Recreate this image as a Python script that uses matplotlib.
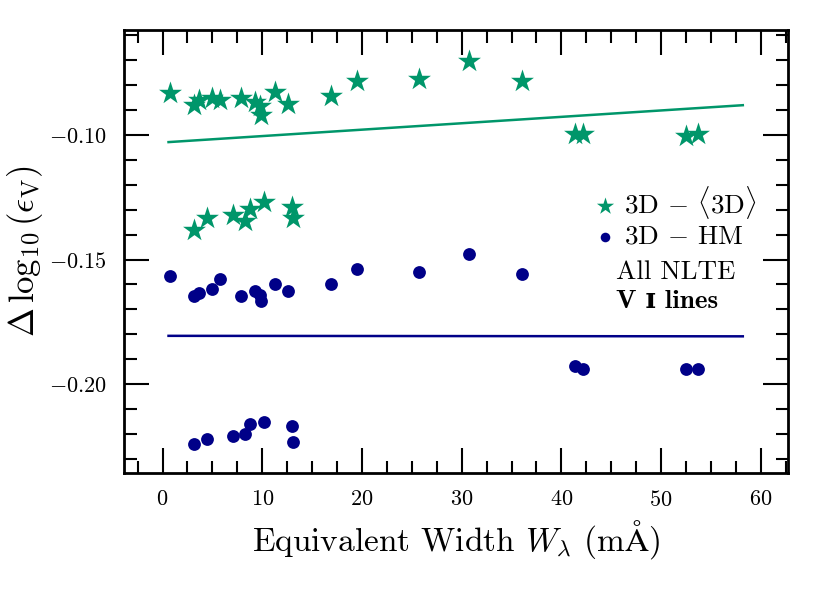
import numpy as np
import matplotlib
matplotlib.use('Agg')
import matplotlib.pyplot as plt
from matplotlib.ticker import MultipleLocator

plt.rcParams['font.family'] = ['cmr10', 'DejaVu Serif']
plt.rcParams['mathtext.fontset'] = 'cm'
plt.rcParams['axes.formatter.use_mathtext'] = True
plt.rcParams['axes.unicode_minus'] = True

verde = '#00966a'
azul = '#000088'

# linhas do grupo de cima (3D - <3D> e 3D - HM)
ew_alto = [0.75, 3.16, 3.7, 4.95, 5.75, 7.9, 9.3, 9.75, 9.9, 11.27, 12.63,
           16.88, 19.46, 25.7, 30.71, 36.09, 41.4, 42.15, 52.55, 53.75]
estrela_alto = [-0.0833, -0.0880, -0.0859, -0.0853, -0.0859, -0.0853, -0.0869,
                -0.0886, -0.0922, -0.0828, -0.0875, -0.0843, -0.0782, -0.0775,
                -0.0703, -0.0782, -0.0997, -0.0997, -0.1004, -0.0997]
circulo_alto = [-0.1567, -0.1645, -0.1634, -0.1618, -0.1578, -0.1647, -0.1627,
                -0.1641, -0.1667, -0.1597, -0.1627, -0.1598, -0.1537, -0.1548,
                -0.1477, -0.1557, -0.1928, -0.1939, -0.1939, -0.1939]

# linhas do grupo de baixo
ew_baixo = [3.16, 4.5, 7.1, 8.27, 8.8, 10.17, 13.0, 13.1]
estrela_baixo = [-0.1382, -0.1332, -0.1321, -0.1344, -0.1299, -0.1270, -0.1288, -0.1335]
circulo_baixo = [-0.2238, -0.2221, -0.2209, -0.2198, -0.2161, -0.2150, -0.2169, -0.2230]

# ajustes lineares (extremos)
ajuste_x = [0.6, 58.2]
ajuste_verde = [-0.1029, -0.0881]
ajuste_azul = [-0.1806, -0.1808]

fig = plt.figure(figsize=(8.3, 5.93), dpi=100)
ax = fig.add_axes([0.149, 0.202, 0.800, 0.748])

ax.plot(ajuste_x, ajuste_verde, color=verde, lw=1.8)
ax.plot(ajuste_x, ajuste_azul, color=azul, lw=1.8)

ax.scatter(ew_alto + ew_baixo, estrela_alto + estrela_baixo, marker='*', s=300,
           color=verde, linewidths=0, label=r'3D $-$ $\langle$3D$\rangle$', zorder=3)
ax.scatter(ew_alto + ew_baixo, circulo_alto + circulo_baixo, marker='o', s=85,
           color=azul, linewidths=0, label=r'3D $-$ HM', zorder=3)

ax.set_xlim(-3.9, 62.7)
ax.set_ylim(-0.2357, -0.0578)
ax.xaxis.set_major_locator(MultipleLocator(10))
ax.xaxis.set_minor_locator(MultipleLocator(2.5))
ax.yaxis.set_major_locator(MultipleLocator(0.05))
ax.yaxis.set_minor_locator(MultipleLocator(0.01))
ax.yaxis.set_major_formatter(plt.FuncFormatter(lambda v, p: r'$%.2f$' % v))
ax.xaxis.set_major_formatter(plt.FuncFormatter(lambda v, p: r'$%d$' % v))

ax.tick_params(which='both', direction='in', top=True, right=True, width=1.5)
ax.tick_params(which='major', length=18, labelsize=16, pad=12)
ax.tick_params(which='minor', length=9)
for s in ax.spines.values():
    s.set_linewidth(2)

ax.set_xlabel(r'Equivalent Width $W_\lambda$ (m$\mathrm{\AA}$)', fontsize=24, labelpad=6)
ax.set_ylabel(r'$\Delta\,\log_{10}(\epsilon_{\mathrm{V}})$', fontsize=25, labelpad=3)

leg = ax.legend(loc='upper left', bbox_to_anchor=(0.69, 0.683), frameon=False,
                fontsize=19.5, handlelength=0.7, handletextpad=0.35, borderpad=0,
                labelspacing=0.15, markerscale=0.75)

ax.text(0.741, 0.454, 'All NLTE', transform=ax.transAxes, fontsize=19.5, va='center')
ax.text(0.742, 0.386, 'V ɪ lines', transform=ax.transAxes, fontsize=19.5, va='center',
        fontweight='bold', family=['cmb10', 'DejaVu Serif'])

fig.savefig('out.png', dpi=100)
